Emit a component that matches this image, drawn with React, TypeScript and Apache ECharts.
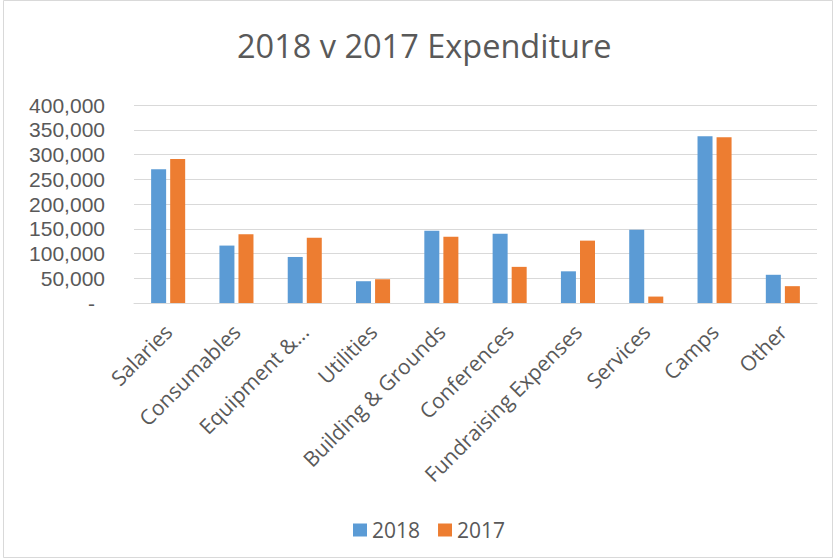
import React, { useEffect, useRef } from "react";
import * as echarts from "echarts";

const categories = [
  "Salaries",
  "Consumables",
  "Equipment &...",
  "Utilities",
  "Building & Grounds",
  "Conferences",
  "Fundraising Expenses",
  "Services",
  "Camps",
  "Other",
];
const values2018 = [270000, 116000, 93000, 44000, 146000, 140000, 64000, 148000, 337000, 57000];
const values2017 = [291000, 139000, 132000, 48000, 134000, 73000, 126000, 13000, 335000, 34000];
const yTicks = [0, 50000, 100000, 150000, 200000, 250000, 300000, 350000, 400000];

const FONT = "'Open Sans', 'Noto Sans', sans-serif";
const YFONT = "'Liberation Sans', Arial, sans-serif";
const TXT = "#595959";

export default function App() {
  const ref = useRef<HTMLDivElement>(null);
  useEffect(() => {
    if (!ref.current) return;
    const chart = echarts.init(ref.current, undefined, { renderer: "svg" });
    chart.setOption({
      animation: false,
      backgroundColor: "#ffffff",
      textStyle: { fontFamily: FONT, color: TXT },
      title: {
        text: "2018 v 2017 Expenditure",
        left: 237,
        top: 28,
        padding: 0,
        textStyle: { fontFamily: FONT, fontSize: 32.5, lineHeight: 34, fontWeight: "normal", color: TXT },
      },
      legend: {
        bottom: 18,
        left: 353,
        itemWidth: 14,
        itemHeight: 13,
        itemGap: 18,
        icon: "rect",
        padding: 0,
        textStyle: { fontFamily: FONT, fontSize: 21, lineHeight: 22, color: TXT },
        data: ["2018", "2017"],
      },
      graphic: [
        {
          type: "rect",
          shape: { x: 3.5, y: 0.5, width: 829, height: 557 },
          style: { fill: "none", stroke: "#d9d9d9", lineWidth: 1 },
          silent: true,
        },
      ],
      grid: { left: 134, right: 19, top: 105, bottom: 256, containLabel: false },
      xAxis: {
        type: "category",
        data: categories,
        axisLine: { lineStyle: { color: "#d9d9d9", width: 1 } },
        axisTick: { show: false },
        axisLabel: {
          interval: 0,
          rotate: 45,
          margin: 25,
          fontFamily: FONT,
          fontSize: 21,
          lineHeight: 22,
          color: TXT,
        },
      },
      yAxis: {
        type: "value",
        min: yTicks[0],
        max: yTicks[yTicks.length - 1],
        interval: yTicks[1] - yTicks[0],
        axisLine: { show: false },
        axisTick: { show: false },
        splitLine: { lineStyle: { color: "#d9d9d9", width: 1 } },
        axisLabel: {
          margin: 29,
          fontFamily: YFONT,
          fontSize: 21,
          lineHeight: 22,
          color: TXT,
          formatter: (v: number) => (v === 0 ? "{d|-}" : v.toLocaleString("en-US")),
          rich: { d: { fontFamily: YFONT, fontSize: 21, lineHeight: 22, color: TXT, padding: [0, 10, 0, 0] } },
        },
      },
      series: [
        {
          name: "2018",
          type: "bar",
          data: values2018,
          barWidth: 15,
          barGap: "27%",
          itemStyle: { color: "#5B9BD5" },
        },
        {
          name: "2017",
          type: "bar",
          data: values2017,
          barWidth: 15,
          barGap: "27%",
          itemStyle: { color: "#ED7D31" },
        },
      ],
    });
    return () => chart.dispose();
  }, []);
  return (
    <div
      ref={ref}
      style={{ position: "absolute", left: 0, top: 0, width: 836, height: 559 }}
    />
  );
}
